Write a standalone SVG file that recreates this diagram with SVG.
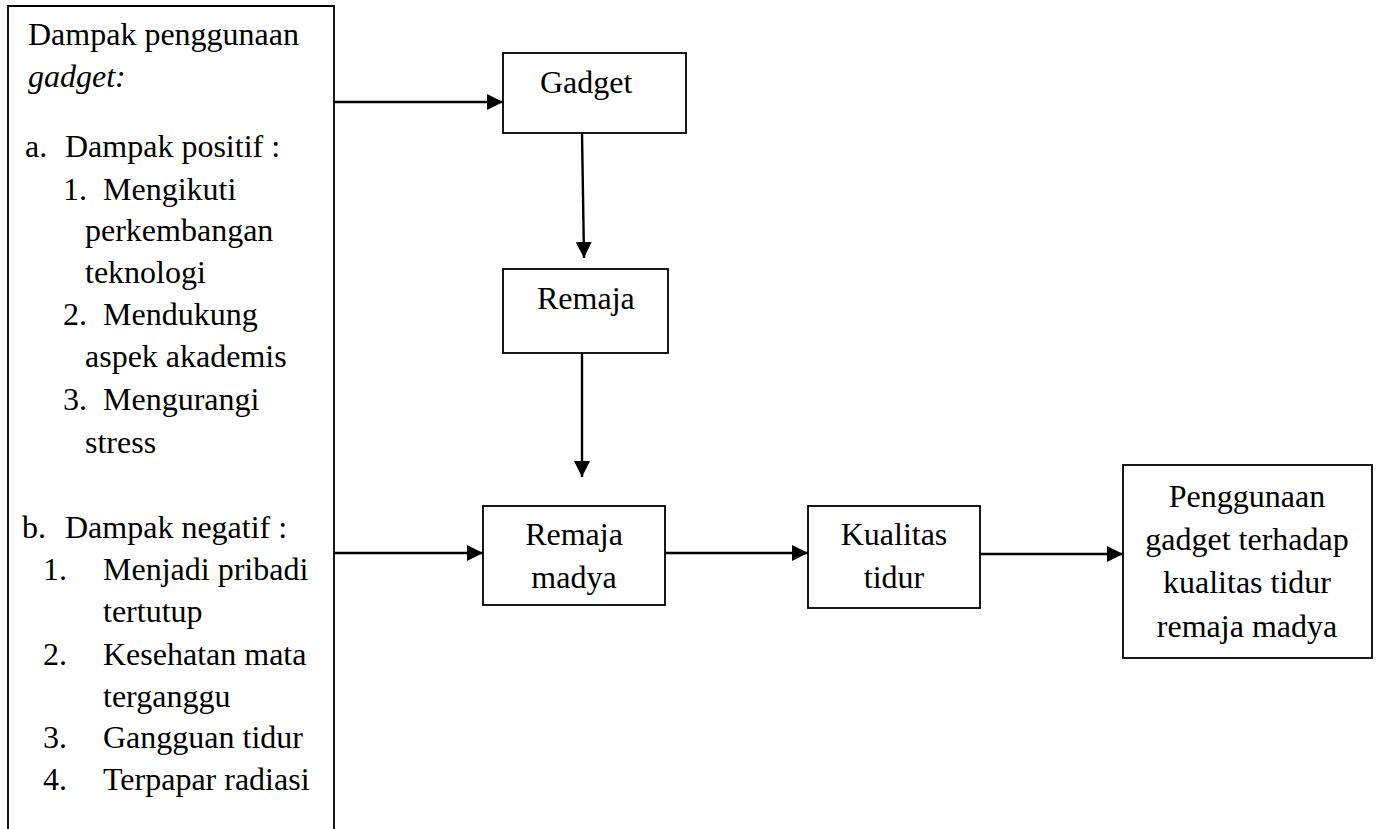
<svg xmlns="http://www.w3.org/2000/svg" width="1379" height="829" viewBox="0 0 1379 829">
<style>
text{font-family:"Liberation Serif","Times New Roman",serif;font-size:32px;fill:#000}
.box{fill:#fff;stroke:#000;stroke-width:1.8}
.c{fill:none;stroke:#000;stroke-width:2.4}
.m{text-anchor:middle}
</style>
<defs>
<marker id="ah" markerUnits="userSpaceOnUse" markerWidth="17" markerHeight="17" viewBox="0 0 17 17" refX="16" refY="8.5" orient="auto">
<path d="M0,0.5 L16,8.5 L0,16.5 Z" fill="#000"/>
</marker>
</defs>
<rect width="1379" height="829" fill="#fff"/>
<g id="dampak">
<path class="box" d="M8,835 V6 H334 V835"/>
<text x="28" y="45">Dampak penggunaan</text>
<text x="28" y="87" font-style="italic">gadget:</text>
<text x="25" y="157">a.</text><text x="65" y="157">Dampak positif :</text>
<text x="63" y="200">1.</text><text x="103" y="200">Mengikuti</text>
<text x="85" y="241">perkembangan</text>
<text x="85" y="283">teknologi</text>
<text x="63" y="325">2.</text><text x="103" y="325">Mendukung</text>
<text x="85" y="367">aspek akademis</text>
<text x="63" y="410">3.</text><text x="103" y="410">Mengurangi</text>
<text x="85" y="453">stress</text>
<text x="22" y="538">b.</text><text x="65" y="538">Dampak negatif :</text>
<text x="43" y="580">1.</text><text x="103" y="580">Menjadi pribadi</text>
<text x="103" y="622">tertutup</text>
<text x="43" y="665">2.</text><text x="103" y="665">Kesehatan mata</text>
<text x="103" y="707">terganggu</text>
<text x="43" y="748">3.</text><text x="103" y="748">Gangguan tidur</text>
<text x="43" y="790">4.</text><text x="103" y="790">Terpapar radiasi</text>
</g>
<g id="gadget">
<rect class="box" x="503" y="53" width="183" height="80"/>
<text x="540" y="93">Gadget</text>
</g>
<g id="remaja">
<rect class="box" x="503" y="269" width="165" height="84"/>
<text x="537" y="309">Remaja</text>
</g>
<g id="remaja-madya">
<rect class="box" x="483" y="506" width="182" height="99"/>
<text class="m" x="574" y="545">Remaja</text>
<text class="m" x="574" y="588">madya</text>
</g>
<g id="kualitas-tidur">
<rect class="box" x="808" y="506" width="172" height="102"/>
<text class="m" x="894" y="545">Kualitas</text>
<text class="m" x="894" y="588">tidur</text>
</g>
<g id="hasil">
<rect class="box" x="1123" y="465" width="249" height="193"/>
<text class="m" x="1247" y="507">Penggunaan</text>
<text class="m" x="1247" y="550">gadget terhadap</text>
<text class="m" x="1247" y="593">kualitas tidur</text>
<text class="m" x="1247" y="637">remaja madya</text>
</g>
<g id="connectors">
<line class="c" x1="334" y1="102" x2="503" y2="102" marker-end="url(#ah)"/>
<line class="c" x1="582" y1="133" x2="584" y2="258" marker-end="url(#ah)"/>
<line class="c" x1="582" y1="353" x2="582" y2="477" marker-end="url(#ah)"/>
<line class="c" x1="334" y1="553" x2="483" y2="553" marker-end="url(#ah)"/>
<line class="c" x1="665" y1="553" x2="808" y2="553" marker-end="url(#ah)"/>
<line class="c" x1="980" y1="554" x2="1123" y2="554" marker-end="url(#ah)"/>
</g>
</svg>
